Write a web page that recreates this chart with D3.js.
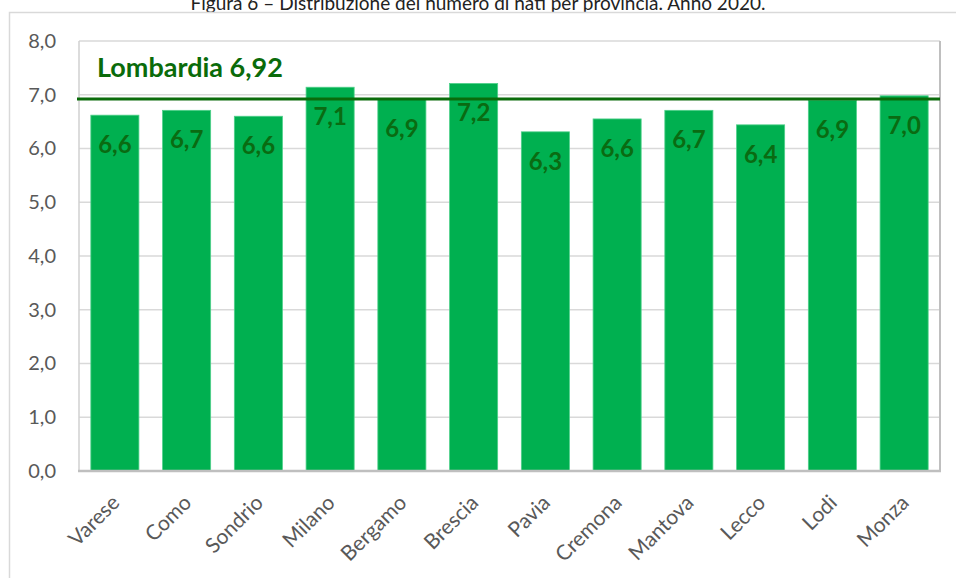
<!DOCTYPE html>
<html>
<head>
<meta charset="utf-8">
<script src="https://cdn.jsdelivr.net/npm/d3@7"></script>
<style>
  body { margin: 0; background: #fff; }
  svg { display: block; font-family: Lato, "Open Sans", sans-serif; }
</style>
</head>
<body>
<div id="chart"></div>
<script>
const categories = ["Varese","Como","Sondrio","Milano","Bergamo","Brescia","Pavia","Cremona","Mantova","Lecco","Lodi","Monza"];
const values = [6.62, 6.71, 6.60, 7.14, 6.93, 7.21, 6.31, 6.55, 6.71, 6.44, 6.90, 6.98];
const valueLabels = ["6,6","6,7","6,6","7,1","6,9","7,2","6,3","6,6","6,7","6,4","6,9","7,0"];
const yTicks = [0,1,2,3,4,5,6,7,8];
const regionValue = 6.92;
const regionLabel = "Lombardia 6,92";
const titleText = "Figura 6 – Distribuzione del numero di nati per provincia. Anno 2020.";

const W = 956, H = 578;
const plot = {left: 79, right: 940, top: 41, bottom: 471};

const svg = d3.select("#chart").append("svg").attr("width", W).attr("height", H);

// title (partially cut at top, as in the reference)
svg.append("text").attr("x", 478).attr("y", 10).attr("text-anchor", "middle")
  .attr("font-size", 19).attr("fill", "#222").text(titleText);

// outer frame
svg.append("path").attr("d", `M9.5,${H} V12.5 H${W}`).attr("fill", "none")
  .attr("stroke", "#d9d9d9").attr("stroke-width", 1.5);

const x = d3.scaleBand().domain(categories).range([plot.left, plot.right]).paddingInner(0.33).paddingOuter(0.165);
const y = d3.scaleLinear().domain([0, 8]).range([plot.bottom, plot.top]);

// gridlines
svg.append("g").selectAll("line").data(yTicks.filter(d => d > 0)).join("line")
  .attr("x1", plot.left).attr("x2", plot.right)
  .attr("y1", d => y(d)).attr("y2", d => y(d))
  .attr("stroke", "#d9d9d9").attr("stroke-width", 1.5);

// plot border left/right
svg.append("line").attr("x1", plot.left).attr("x2", plot.left).attr("y1", plot.top).attr("y2", plot.bottom)
  .attr("stroke", "#d0d0d0").attr("stroke-width", 1.5);
svg.append("line").attr("x1", plot.right).attr("x2", plot.right).attr("y1", plot.top).attr("y2", plot.bottom)
  .attr("stroke", "#bfbfbf").attr("stroke-width", 2);

// y axis labels
const yAxis = d3.axisLeft(y).tickValues(yTicks).tickSize(0).tickPadding(0)
  .tickFormat(d => d3.format(".1f")(d).replace(".", ","));
const gy = svg.append("g").attr("transform", `translate(${56},0)`).call(yAxis);
gy.select(".domain").remove();
gy.selectAll("text").attr("font-size", 20).attr("fill", "#595959").attr("font-family", "Lato, sans-serif");

// bars
svg.append("g").selectAll("rect").data(categories).join("rect")
  .attr("x", d => x(d)).attr("width", x.bandwidth())
  .attr("y", (d, i) => y(values[i])).attr("height", (d, i) => y(0) - y(values[i]))
  .attr("fill", "#00b050").attr("stroke", "#4fd08a").attr("stroke-width", 0.8);

// x axis line
svg.append("line").attr("x1", plot.left - 1).attr("x2", plot.right + 1).attr("y1", plot.bottom).attr("y2", plot.bottom)
  .attr("stroke", "#bfbfbf").attr("stroke-width", 2.5);

// x axis labels
const xAxis = d3.axisBottom(x).tickSize(0).tickPadding(0);
const gx = svg.append("g").attr("transform", `translate(0,${plot.bottom})`).call(xAxis);
gx.select(".domain").remove();
gx.selectAll("text")
  .attr("font-size", 21).attr("fill", "#595959").attr("font-family", "Lato, sans-serif")
  .attr("text-anchor", "end").attr("dy", null).attr("y", null)
  .attr("transform", "translate(6,33) rotate(-45)");

// value labels
svg.append("g").selectAll("text").data(categories).join("text")
  .attr("x", d => x(d) + x.bandwidth() / 2)
  .attr("y", (d, i) => y(values[i]) + 38)
  .attr("text-anchor", "middle").attr("font-size", 24).attr("font-weight", "bold")
  .attr("fill", "#0a6b12").text((d, i) => valueLabels[i]);

// regional average line
svg.append("line").attr("x1", plot.left - 2).attr("x2", plot.right).attr("y1", y(regionValue)).attr("y2", y(regionValue))
  .attr("stroke", "#0a6b0a").attr("stroke-width", 3);
svg.append("text").attr("x", 97).attr("y", 77).attr("font-size", 27).attr("font-weight", "bold")
  .attr("fill", "#0a6b0a").text(regionLabel);
</script>
</body>
</html>
